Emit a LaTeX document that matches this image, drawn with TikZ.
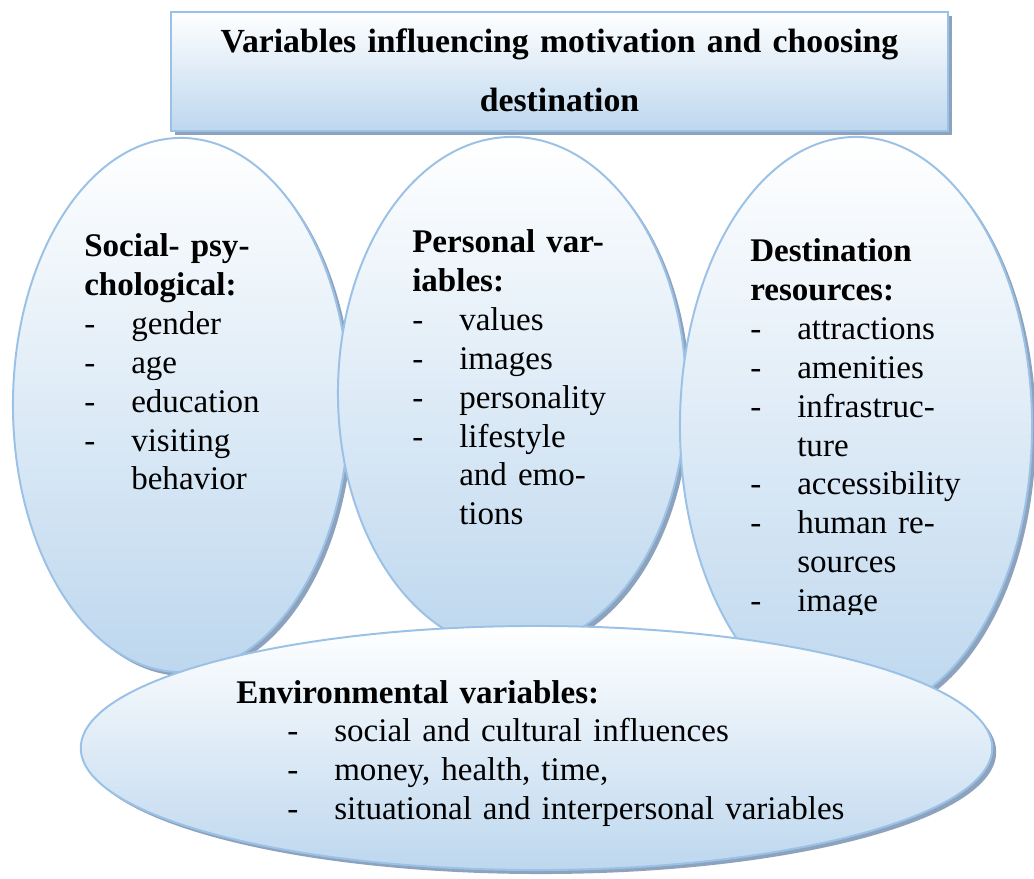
\documentclass[tikz,border=0pt]{standalone}
\usepackage{fontspec}
\setmainfont{Liberation Serif}[WordSpace=0.75]
\usetikzlibrary{shapes.geometric,shadows,positioning}
\definecolor{edgeblue}{RGB}{155,194,230}
\definecolor{fillblue}{RGB}{189,215,238}
\definecolor{shadeblue}{RGB}{141,163,189}
\newcommand{\bullit}[1]{\makebox[1.175cm][l]{-}#1}
\newcommand{\goon}[1]{\hspace*{1.175cm}#1}

\begin{document}
\begin{tikzpicture}[x=0.025cm, y=-0.025cm,
    blueshadow/.style={drop shadow={shadow xshift=0.1cm, shadow yshift=-0.1cm, fill=shadeblue, opacity=1}},
    bubble/.style={ellipse, draw=edgeblue, line width=1.4pt, top color=white, bottom color=fillblue,
        inner sep=0pt, blueshadow},
    listing/.style={anchor=base west, inner sep=0pt, text width=#1, align=left,
        font=\fontsize{23.5}{27.6}\selectfont}]

    \useasboundingbox (0,0) rectangle (1034,879);

    \node[draw=edgeblue, line width=1.4pt, top color=white, bottom color=fillblue, inner sep=0pt,
        minimum width=19.425cm, minimum height=2.975cm, blueshadow] (head) at (559.5,71.5) {};
    \node[anchor=base, inner sep=0pt, text width=19cm, align=center,
        font=\fontsize{24}{41.3}\selectfont\bfseries] (headtext) at (559.5,53)
        {Variables influencing motivation and choosing\\ destination};

    \node[bubble, minimum width=8.4cm, minimum height=13.35cm] (social) at (181,405) {};
    \node[listing=7cm] (socialtext) at (84,257)
        {\textbf{Social- psy-}\\ \textbf{chological:}\\ \bullit{gender}\\ \bullit{age}\\
         \bullit{education}\\ \bullit{visiting}\\ \goon{behavior}};

    \node[bubble, minimum width=8.7cm, minimum height=12.8cm] (personal) at (512,393) {};
    \node[listing=7cm] (personaltext) at (412,253)
        {\textbf{Personal var-}\\ \textbf{iables:}\\ \bullit{values}\\ \bullit{images}\\
         \bullit{personality}\\ \bullit{lifestyle}\\ \goon{and emo-}\\ \goon{tions}};

    \node[bubble, minimum width=8.8cm, minimum height=14.45cm] (resources) at (856,426) {};
    \begin{scope}
        \clip (740,220) rectangle (1034,614);
        \node[listing=7cm] (resourcestext) at (750,262)
            {\textbf{Destination}\\ \textbf{resources:}\\ \bullit{attractions}\\ \bullit{amenities}\\
             \bullit{infrastruc-}\\ \goon{ture}\\ \bullit{accessibility}\\ \bullit{human re-}\\
             \goon{sources}\\ \bullit{image}};
    \end{scope}

    \node[bubble, minimum width=22.78cm, minimum height=6.1cm] (environment) at (536.5,748) {};
    \node[listing=18cm] (environmenttext) at (236,703)
        {\textbf{Environmental variables:}\\
         \hspace*{1.275cm}\bullit{social and cultural influences}\\
         \hspace*{1.275cm}\bullit{money, health, time,}\\
         \hspace*{1.275cm}\bullit{situational and interpersonal variables}};
\end{tikzpicture}
\end{document}
